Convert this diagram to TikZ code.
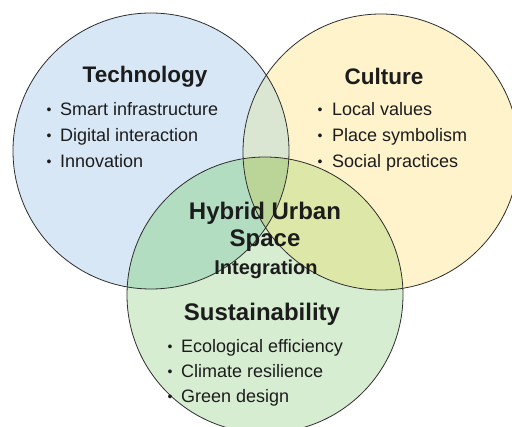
\documentclass[tikz,border=0pt]{standalone}
\usepackage{fontspec}
\setmainfont{Liberation Sans}
\definecolor{techc}{HTML}{D7E7F5}
\definecolor{cultc}{HTML}{FFF3CC}
\definecolor{sustc}{HTML}{D7EDD2}
\definecolor{tsc}{HTML}{B3DDC0}
\definecolor{csc}{HTML}{DDE8A8}
\definecolor{tcc}{HTML}{DAE6D2}
\definecolor{allc}{HTML}{BBD598}
\definecolor{ink}{HTML}{1C1C1C}
\definecolor{edge}{HTML}{2E2E2E}
\begin{document}
\begin{tikzpicture}[x=1pt,y=-1pt,
  ring/.style={draw=edge,line width=0.8pt},
  head/.style={font=\fontsize{22.5}{26}\selectfont\bfseries,text=ink,inner sep=0pt},
  bighead/.style={font=\fontsize{24}{28}\selectfont\bfseries,text=ink,inner sep=0pt},
  item/.style={font=\fontsize{18}{21}\selectfont,text=ink,inner sep=0pt,anchor=base west},
  dot/.style={font=\fontsize{14}{17}\selectfont,text=ink,inner sep=0pt,anchor=base}]
\useasboundingbox (0,0) rectangle (512,427);
\coordinate (T) at (151,151);
\coordinate (C) at (381,152);
\coordinate (S) at (265,295);
\def\R{138}
% base fills
\fill[techc] (T) circle[radius=\R];
\fill[cultc] (C) circle[radius=\R];
\fill[sustc] (S) circle[radius=\R];
% pairwise overlaps
\begin{scope}
  \clip (T) circle[radius=\R];
  \fill[tcc] (C) circle[radius=\R];
  \fill[tsc] (S) circle[radius=\R];
\end{scope}
\begin{scope}
  \clip (C) circle[radius=\R];
  \fill[csc] (S) circle[radius=\R];
\end{scope}
\begin{scope}
  \clip (T) circle[radius=\R];
  \clip (C) circle[radius=\R];
  \fill[allc] (S) circle[radius=\R];
\end{scope}
% outlines
\draw[ring] (T) circle[radius=\R];
\draw[ring] (C) circle[radius=\R];
\draw[ring] (S) circle[radius=\R];
% Technology
\node[head] (tech) at (145,77) {Technology};
\node[dot] (tb1) at (49,115) {•};
\node[item] (ti1) at (60,116) {Smart infrastructure};
\node[dot] (tb2) at (49,141) {•};
\node[item] (ti2) at (60,142) {Digital interaction};
\node[dot] (tb3) at (49,167) {•};
\node[item] (ti3) at (60,168) {Innovation};
% Culture
\node[head] (cult) at (384,76) {Culture};
\node[dot] (cb1) at (320,115) {•};
\node[item] (ci1) at (332,116) {Local values};
\node[dot] (cb2) at (320,141) {•};
\node[item] (ci2) at (332,142) {Place symbolism};
\node[dot] (cb3) at (320,167) {•};
\node[item] (ci3) at (332,168) {Social practices};
% Center
\node[bighead] (hyb) at (265,213) {Hybrid Urban};
\node[bighead] (spc) at (265,241) {Space};
\node[font=\fontsize{20}{24}\selectfont\bfseries,text=ink,inner sep=0pt] (intg) at (266,269) {Integration};
% Sustainability
\node[bighead] (sust) at (262,314) {Sustainability};
\node[dot] (sb1) at (170,352) {•};
\node[item] (si1) at (181,353) {Ecological efficiency};
\node[dot] (sb2) at (170,377) {•};
\node[item] (si2) at (181,378) {Climate resilience};
\node[dot] (sb3) at (170,402) {•};
\node[item] (si3) at (181,403) {Green design};
\end{tikzpicture}
\end{document}
